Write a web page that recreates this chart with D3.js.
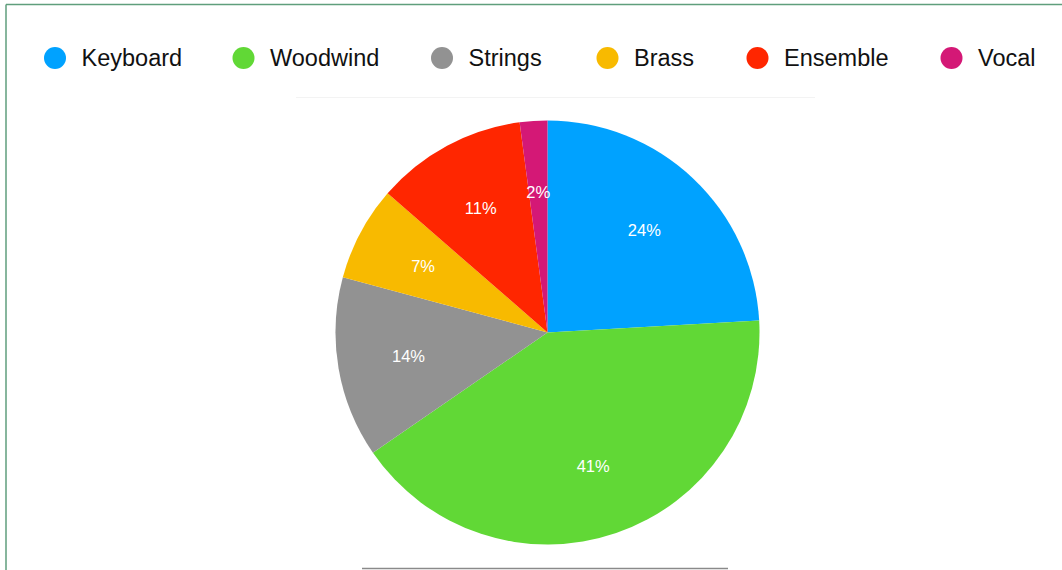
<!DOCTYPE html>
<html>
<head>
<meta charset="utf-8">
<script src="https://cdn.jsdelivr.net/npm/d3@7"></script>
<style>
html,body{margin:0;padding:0;background:#fff;}
svg{display:block;}
</style>
</head>
<body>
<svg id="chart" width="1062" height="570"></svg>
<script>
const categories = ["Keyboard", "Woodwind", "Strings", "Brass", "Ensemble", "Vocal"];
const values = [24.1, 41.3, 13.8, 7.2, 11.5, 2.1];
const labels = ["24%", "41%", "14%", "7%", "11%", "2%"];
const colors = ["#00A2FF", "#61D836", "#929292", "#F8BA00", "#FF2600", "#D41876"];

const svg = d3.select("#chart");
const W = 1062, H = 570;
const font = "'Liberation Sans', Arial, Helvetica, sans-serif";

// frame lines
svg.append("line").attr("x1", 6).attr("x2", W).attr("y1", 4.5).attr("y2", 4.5)
  .attr("stroke", "#5f9e7c").attr("stroke-width", 1.5);
svg.append("line").attr("x1", 6).attr("x2", 6).attr("y1", 4.5).attr("y2", H)
  .attr("stroke", "#5f9e7c").attr("stroke-width", 1.5);
svg.append("line").attr("x1", 296).attr("x2", 815).attr("y1", 97.5).attr("y2", 97.5)
  .attr("stroke", "#f3f3f3").attr("stroke-width", 1);
svg.append("line").attr("x1", 362).attr("x2", 728).attr("y1", 568.5).attr("y2", 568.5)
  .attr("stroke", "#8a8a8a").attr("stroke-width", 1.5);

// legend (layout: marker centre x per item)
const legendX = [55, 243.5, 442, 607.5, 757.5, 951.5];
const legend = svg.append("g");
categories.forEach((c, i) => {
  const x = legendX[i];
  legend.append("circle").attr("cx", x).attr("cy", 58).attr("r", 11).attr("fill", colors[i]);
  legend.append("text").attr("x", x + 26.5).attr("y", 58).attr("dy", "0.35em")
    .attr("font-family", font).attr("font-size", 23.5).attr("fill", "#111").text(c);
});

// pie
const cx = 547.5, cy = 332.5, R = 212;
const pie = d3.pie().sort(null).value(d => d.v);
const data = pie(categories.map((c, i) => ({c, v: values[i], l: labels[i], col: colors[i]})));
const arc = d3.arc().innerRadius(0).outerRadius(R);
const labelArc = d3.arc().innerRadius(141).outerRadius(141);
const g = svg.append("g").attr("transform", `translate(${cx},${cy})`);
g.selectAll("path").data(data).join("path")
  .attr("d", arc).attr("fill", d => d.data.col);
g.selectAll("text").data(data).join("text")
  .attr("transform", d => `translate(${labelArc.centroid(d)})`)
  .attr("text-anchor", "middle").attr("dy", "0.35em")
  .attr("font-family", font).attr("font-size", 16.5).attr("fill", "#fff")
  .text(d => d.data.l);
</script>
</body>
</html>
